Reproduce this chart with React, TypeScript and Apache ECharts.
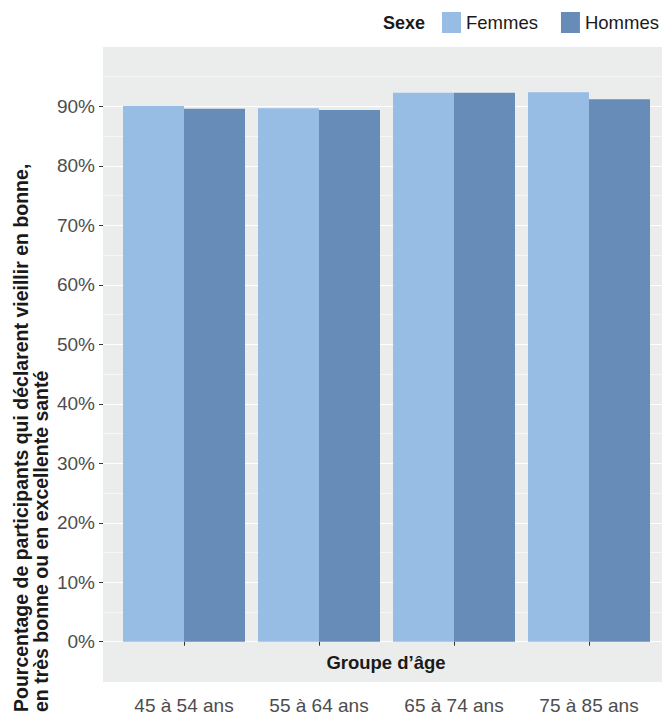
import React, { useEffect, useRef } from "react";
import * as echarts from "echarts";

const categories = ["45 à 54 ans", "55 à 64 ans", "65 à 74 ans", "75 à 85 ans"];
const femmes = [90.1, 89.7, 92.3, 92.4];
const hommes = [89.6, 89.4, 92.3, 91.2];
const yTicks = [0, 10, 20, 30, 40, 50, 60, 70, 80, 90];

const FONT = "'Liberation Sans', Arial, sans-serif";
const PANEL = "#ebecec";

export default function App() {
  const ref = useRef<HTMLDivElement>(null);
  useEffect(() => {
    if (!ref.current) return;
    const chart = echarts.init(ref.current, undefined, { renderer: "svg" });
    const pos = categories.map((_, i) => i + 1);
    chart.setOption({
      animation: false,
      backgroundColor: "#ffffff",
      textStyle: { fontFamily: FONT },
      legend: {
        data: ["Femmes", "Hommes"],
        left: 442,
        top: 12,
        padding: 0,
        width: 230,
        itemWidth: 19,
        itemHeight: 21,
        itemGap: 23,
        icon: "rect",
        textStyle: { fontSize: 18.5, color: "#1a1a1a", fontFamily: FONT },
      },
      grid: {
        left: 103,
        right: 0,
        top: 47,
        bottom: 73.3,
        show: true,
        backgroundColor: PANEL,
        borderWidth: 0,
        containLabel: false,
      },
      xAxis: {
        type: "value",
        min: 0.4,
        max: 4.5407,
        offset: 40.3,
        axisLine: { show: false },
        splitLine: { show: false },
        axisTick: { show: true, customValues: pos, length: 4, lineStyle: { color: "#333333" } },
        axisLabel: {
          customValues: pos,
          formatter: (v: number) => categories[Math.round(v) - 1] ?? "",
          fontSize: 19,
          color: "#4d4d4d",
          margin: 14,
          fontFamily: FONT,
        },
      },
      yAxis: {
        type: "value",
        min: 0,
        max: 100,
        interval: 10,
        axisLine: { show: false },
        axisTick: { show: true, customValues: yTicks, length: 4, lineStyle: { color: "#333333" } },
        axisLabel: {
          customValues: yTicks,
          formatter: (v: number) => v + "%",
          fontSize: 19,
          color: "#4d4d4d",
          margin: 8,
          fontFamily: FONT,
        },
        splitLine: { show: true, lineStyle: { color: "#ffffff", width: 1.2 } },
        minorTick: { show: false, splitNumber: 2 },
        minorSplitLine: { show: true, lineStyle: { color: "#ffffff", width: 0.6 } },
      },
      graphic: [
        {
          type: "rect",
          z: -1,
          shape: { x: 103, y: 641.7, width: 559, height: 40.3 },
          style: { fill: PANEL },
        },
        {
          type: "text",
          x: 386,
          y: 662,
          style: {
            text: "Groupe d\u2019âge",
            font: `bold 18.5px ${FONT}`,
            fill: "#1a1a1a",
            textAlign: "center",
            textVerticalAlign: "middle",
          },
        },
        {
          type: "text",
          x: 31,
          y: 712,
          rotation: Math.PI / 2,
          style: {
            text: "Pourcentage de participants qui déclarent vieillir en bonne,\nen très bonne ou en excellente santé",
            font: `bold 19.5px ${FONT}`,
            fill: "#1a1a1a",
            textAlign: "left",
            textVerticalAlign: "middle",
            lineHeight: 20,
          },
        },
        {
          type: "text",
          x: 425,
          y: 23,
          style: {
            text: "Sexe",
            font: `bold 18px ${FONT}`,
            fill: "#1a1a1a",
            textAlign: "right",
            textVerticalAlign: "middle",
          },
        },
      ],
      series: [
        {
          name: "Femmes",
          type: "bar",
          data: pos.map((p, i) => [p, femmes[i]]),
          barWidth: 61,
          barGap: "0%",
          itemStyle: { color: "#98bde4" },
        },
        {
          name: "Hommes",
          type: "bar",
          data: pos.map((p, i) => [p, hommes[i]]),
          barWidth: 61,
          barGap: "0%",
          itemStyle: { color: "#678cb8" },
        },
      ],
    });
    return () => chart.dispose();
  }, []);
  return (
    <div
      ref={ref}
      style={{ position: "absolute", left: 0, top: 0, width: 662, height: 715 }}
    />
  );
}
